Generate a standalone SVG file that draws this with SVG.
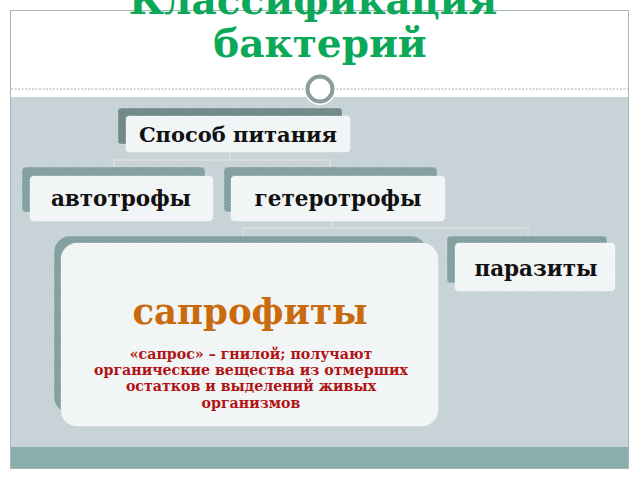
<svg xmlns="http://www.w3.org/2000/svg" width="640" height="480" viewBox="0 0 640 480">
<defs>
<style>
.back{fill:#84a0a0;stroke:#dfe7e9;stroke-width:0.6;stroke-dasharray:1.5 1.5}
.front{fill:#f2f5f6;stroke:#ffffff;stroke-width:0.6;stroke-dasharray:1.5 1.5}
.lbl{font-family:"DejaVu Serif","Liberation Serif",serif;font-weight:bold;fill:#111;text-anchor:middle}
.conn{fill:none;stroke:#dfe6e8;stroke-width:1}
</style>
</defs>
<rect x="0" y="0" width="640" height="480" fill="#ffffff"/>
<rect x="10.5" y="10.5" width="618" height="458" fill="#ffffff" stroke="#a9b6b6" stroke-width="1"/>
<rect x="11" y="97" width="617" height="350" fill="#c8d3d8"/>
<rect x="11" y="447" width="617" height="21" fill="#8aadad"/>
<line x1="11" y1="89" x2="628" y2="89" stroke="#8c9a9a" stroke-width="0.8" stroke-dasharray="2 1.5"/>
<circle cx="320" cy="89" r="16" fill="#ffffff"/>
<circle cx="320" cy="89" r="12.5" fill="#ffffff" stroke="#8a9e9e" stroke-width="4"/>
<g id="title">
<text x="313" y="14" class="lbl" style="font-size:39px;fill:#0aa858">Классификация</text>
<text x="320" y="57" class="lbl" style="font-size:39px;fill:#0aa858">бактерий</text>
</g>
<g id="connectors">
<path class="conn" d="M230 152 V160 M114 160 H330 M114 160 V167 M330 160 V167"/>
<path class="conn" d="M332 221 V228 M243 228 H528 M243 228 V236 M528 228 V236"/>
</g>
<g id="node-sposob">
<rect class="back" x="118" y="108" width="224" height="36" rx="3" style="fill:#728a8a"/>
<rect class="front" x="126" y="116" width="224" height="36" rx="3"/>
<text x="238" y="142" class="lbl" style="font-size:21px">Способ питания</text>
</g>
<g id="node-avto">
<rect class="back" x="22" y="167" width="183" height="45" rx="4"/>
<rect class="front" x="30" y="176" width="183" height="45" rx="4"/>
<text x="121" y="206" class="lbl" style="font-size:21.5px">автотрофы</text>
</g>
<g id="node-getero">
<rect class="back" x="224" y="167" width="213" height="45" rx="4"/>
<rect class="front" x="231" y="176" width="214" height="45" rx="4"/>
<text x="338" y="206" class="lbl" style="font-size:21.5px">гетеротрофы</text>
</g>
<g id="node-saprofity">
<rect class="back" x="54" y="236" width="373" height="177" rx="16"/>
<rect class="front" x="61" y="243" width="377" height="183" rx="16"/>
<text x="250" y="324" class="lbl" style="font-size:35.5px;fill:#c96b0c">сапрофиты</text>
<g class="lbl" style="font-size:14.2px;fill:#b01414">
<text x="251" y="359">«сапрос» – гнилой; получают</text>
<text x="251" y="375">органические вещества из отмерших</text>
<text x="251" y="391">остатков и выделений живых</text>
<text x="251" y="408">организмов</text>
</g>
</g>
<g id="node-parazity">
<rect class="back" x="447" y="236" width="160" height="47" rx="4"/>
<rect class="front" x="455" y="243" width="160" height="48" rx="4"/>
<text x="536" y="276" class="lbl" style="font-size:21.5px">паразиты</text>
</g>
</svg>
